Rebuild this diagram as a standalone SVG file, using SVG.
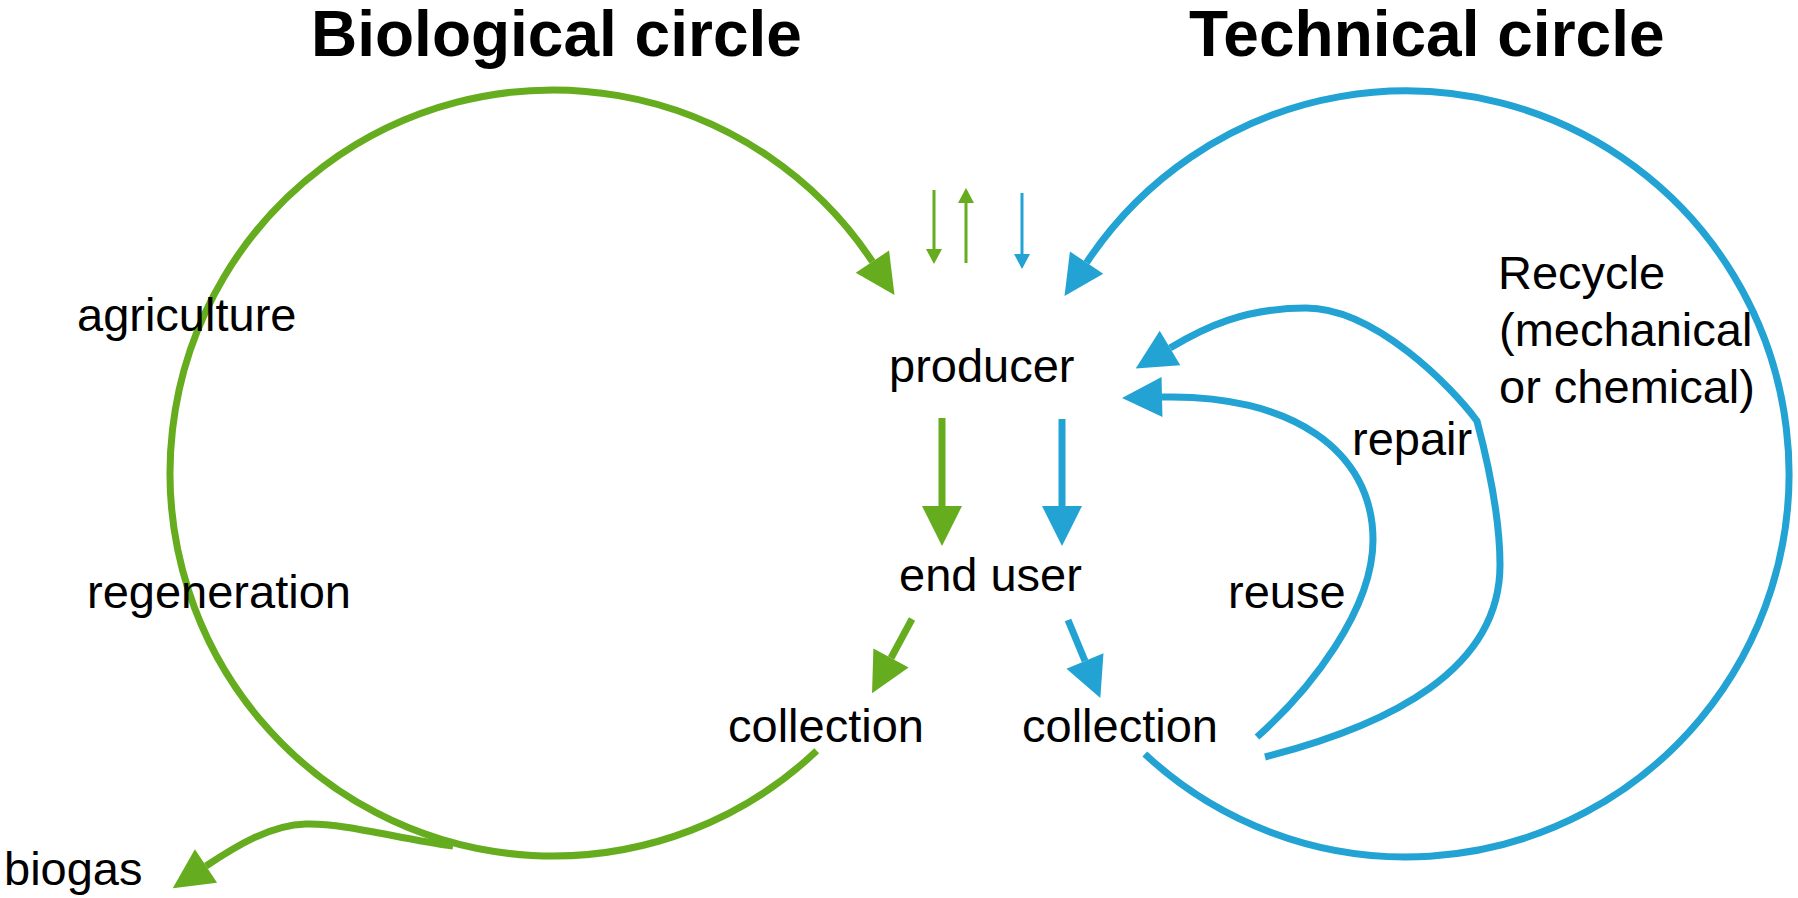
<svg xmlns="http://www.w3.org/2000/svg" width="1798" height="898" viewBox="0 0 1798 898">
<style>
.t{font-family:"Liberation Sans",Arial,sans-serif;font-size:47px;fill:#000}
.h{font-family:"Liberation Sans",Arial,sans-serif;font-size:64px;font-weight:bold;fill:#000}
.g{fill:none;stroke:#65AC1E;stroke-width:7}
.b{fill:none;stroke:#22A3D3;stroke-width:7}
.gs{fill:none;stroke:#65AC1E;stroke-width:3}
.bs{fill:none;stroke:#22A3D3;stroke-width:3}
</style>
<defs>
<marker id="mg" markerUnits="userSpaceOnUse" markerWidth="42" markerHeight="42" refX="0" refY="20" orient="auto" overflow="visible"><path d="M0,0 L40,20 L0,40 Z" fill="#65AC1E"/></marker>
<marker id="mb" markerUnits="userSpaceOnUse" markerWidth="42" markerHeight="42" refX="0" refY="20" orient="auto" overflow="visible"><path d="M0,0 L40,20 L0,40 Z" fill="#22A3D3"/></marker>
<marker id="sg" markerUnits="userSpaceOnUse" markerWidth="16" markerHeight="16" refX="0" refY="8" orient="auto" overflow="visible"><path d="M0,0 L15,8 L0,16 Z" fill="#65AC1E"/></marker>
<marker id="sb" markerUnits="userSpaceOnUse" markerWidth="16" markerHeight="16" refX="0" refY="8" orient="auto" overflow="visible"><path d="M0,0 L15,8 L0,16 Z" fill="#22A3D3"/></marker>
</defs>
<g id="connectors">
<path id="bio-circle" class="g" d="M816.7,750.8 A383,383 0 1 1 872.4,261.6" marker-end="url(#mg)"/>
<path id="biogas-branch" class="g" d="M453,846 C400,839 345,823 306,824 C270,825 236,846 206,866" marker-end="url(#mg)"/>
<path id="tech-circle" class="b" d="M1144.8,754 A383,383 0 1 0 1086.6,262.6" marker-end="url(#mb)"/>
<path id="recycle" class="b" d="M1265,757 C1390,725 1500,670 1500,565 C1500,520 1490,470 1477,421 C1452,387 1375,308 1306,308 C1245,308 1205,327 1170,348" marker-end="url(#mb)"/>
<path id="reuse" class="b" d="M1257,737 C1310,690 1373,610 1373,540 C1373,450 1290,394 1162,397" marker-end="url(#mb)"/>
<path class="g" d="M942,418 L942,506" marker-end="url(#mg)"/>
<path class="b" d="M1062,419 L1062,506" marker-end="url(#mb)"/>
<path class="g" d="M912,619 L891,658" marker-end="url(#mg)"/>
<path class="b" d="M1068,620 L1085,661" marker-end="url(#mb)"/>
<path class="gs" d="M934,190 L934,249" marker-end="url(#sg)"/>
<path class="gs" d="M966,263 L966,203" marker-end="url(#sg)"/>
<path class="bs" d="M1022,193 L1022,254" marker-end="url(#sb)"/>
</g>
<g id="title-bio"><text class="h" x="311" y="56">Biological circle</text></g>
<g id="title-tech"><text class="h" x="1189" y="56">Technical circle</text></g>
<g id="producer"><text class="t" x="889" y="382">producer</text></g>
<g id="end-user"><text class="t" x="899" y="591">end user</text></g>
<g id="collection-bio"><text class="t" x="728" y="742">collection</text></g>
<g id="collection-tech"><text class="t" x="1022" y="742">collection</text></g>
<g id="agriculture"><text class="t" x="77" y="331">agriculture</text></g>
<g id="regeneration"><text class="t" x="87" y="608">regeneration</text></g>
<g id="biogas"><text class="t" x="4" y="885">biogas</text></g>
<g id="repair"><text class="t" x="1352" y="455">repair</text></g>
<g id="reuse-label"><text class="t" x="1228" y="608">reuse</text></g>
<g id="recycle-label"><text class="t" x="1498" y="289">Recycle<tspan x="1499" y="346">(mechanical</tspan><tspan x="1499" y="403">or chemical)</tspan></text></g>
</svg>
